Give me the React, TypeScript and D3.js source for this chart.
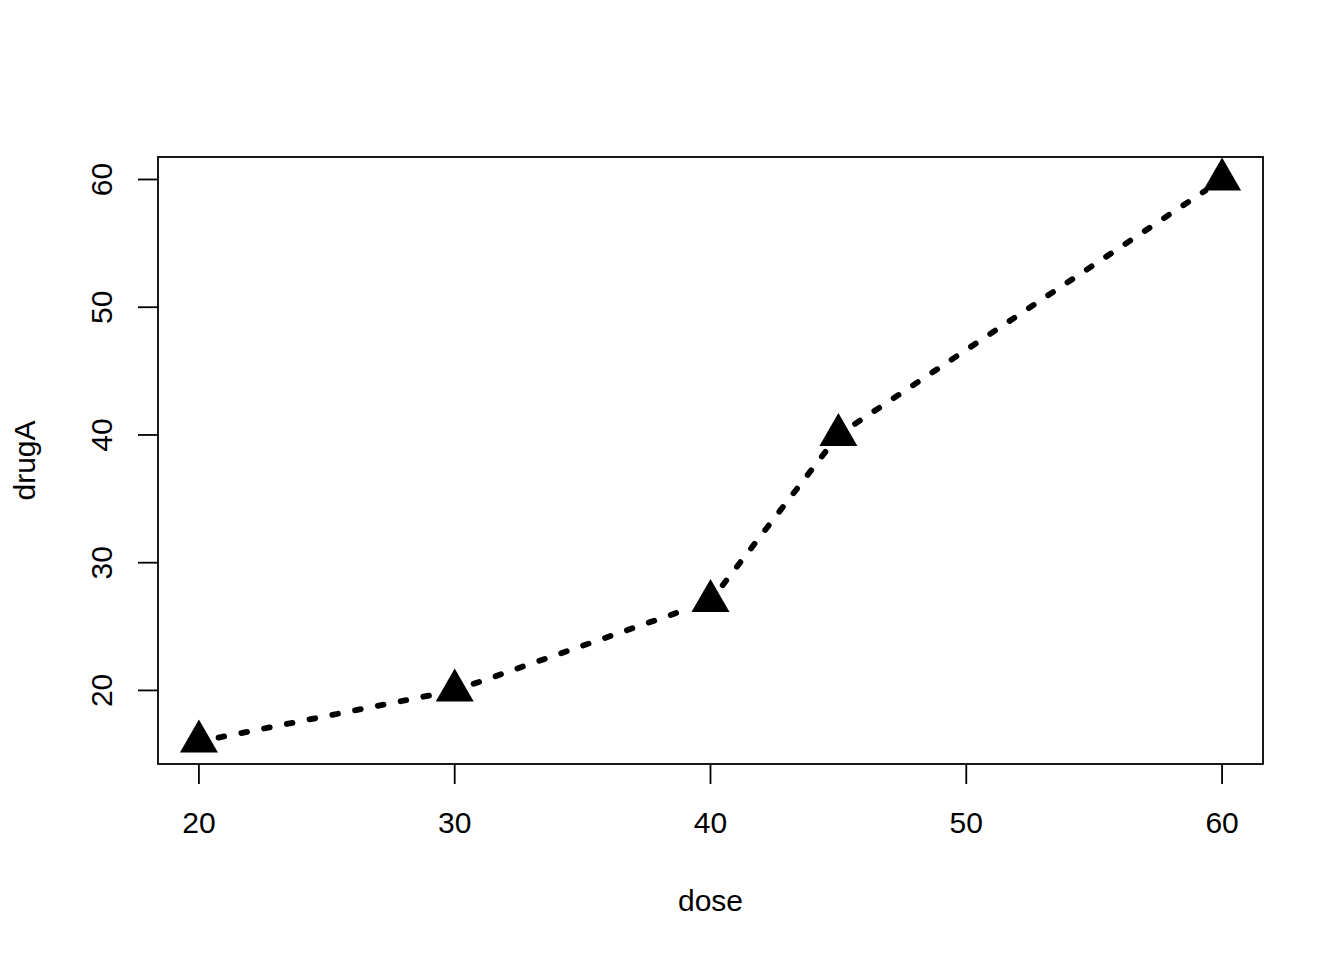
import { useMemo } from "react";
import * as d3 from "d3";

const dose = [20, 30, 40, 45, 60];
const drugA = [16, 20, 27, 40, 60];
const xTicks = [20, 30, 40, 50, 60];
const yTicks = [20, 30, 40, 50, 60];

const WIDTH = 1344;
const HEIGHT = 960;
const BOX = { left: 158, right: 1263, top: 157, bottom: 764 };
const FONT = "'Liberation Sans', Arial, Helvetica, sans-serif";
const TICK_LEN = 20;
const LINE_GAP = 20;
const TRI = { r: 22, xc: 19, yc: 11 };

// R style: pad the data range by 4% on each side
const padded = (vals: number[]): [number, number] => {
  const [lo, hi] = d3.extent(vals) as [number, number];
  const ext = (hi - lo) * 0.04;
  return [lo - ext, hi + ext];
};

export default function App() {
  const xScale = useMemo(
    () => d3.scaleLinear().domain(padded(dose)).range([BOX.left, BOX.right]),
    []
  );
  const yScale = useMemo(
    () => d3.scaleLinear().domain(padded(drugA)).range([BOX.bottom, BOX.top]),
    []
  );

  const pts = dose.map((d, i) => [xScale(d), yScale(drugA[i])]);

  // type = "b": segments stop short of the points
  const segments = pts.slice(1).map((p, i) => {
    const q = pts[i];
    const dx = p[0] - q[0];
    const dy = p[1] - q[1];
    const len = Math.hypot(dx, dy);
    const ux = dx / len;
    const uy = dy / len;
    return (
      <line
        key={i}
        x1={q[0] + ux * LINE_GAP}
        y1={q[1] + uy * LINE_GAP}
        x2={p[0] - ux * LINE_GAP}
        y2={p[1] - uy * LINE_GAP}
        stroke="#000"
        strokeWidth={5.8}
        strokeDasharray="5.8 17.4"
        strokeLinecap="round"
      />
    );
  });

  const triangles = pts.map(([x, y], i) => (
    <path
      key={i}
      d={`M${x},${y - TRI.r}L${x + TRI.xc},${y + TRI.yc}L${x - TRI.xc},${y + TRI.yc}Z`}
      fill="#000"
    />
  ));

  return (
    <svg
      width={WIDTH}
      height={HEIGHT}
      style={{ position: "absolute", left: 0, top: 0, background: "#fff" }}
      fontFamily={FONT}
    >
      <rect
        x={BOX.left}
        y={BOX.top}
        width={BOX.right - BOX.left}
        height={BOX.bottom - BOX.top}
        fill="none"
        stroke="#000"
        strokeWidth={1.8}
      />

      {/* x axis */}
      {xTicks.map((t) => (
        <g key={t} transform={`translate(${xScale(t)},${BOX.bottom})`}>
          <line y2={TICK_LEN} stroke="#000" strokeWidth={1.8} />
          <text y={69} textAnchor="middle" fontSize={30}>
            {t}
          </text>
        </g>
      ))}

      {/* y axis */}
      {yTicks.map((t) => (
        <g key={t} transform={`translate(${BOX.left},${yScale(t)})`}>
          <line x2={-TICK_LEN} stroke="#000" strokeWidth={1.8} />
          <text
            transform={`translate(-46,0) rotate(-90)`}
            textAnchor="middle"
            fontSize={30}
          >
            {t}
          </text>
        </g>
      ))}

      <text x={(BOX.left + BOX.right) / 2} y={911} textAnchor="middle" fontSize={30}>
        dose
      </text>
      <text
        transform={`translate(35,${(BOX.top + BOX.bottom) / 2}) rotate(-90)`}
        textAnchor="middle"
        fontSize={30}
      >
        drugA
      </text>

      {segments}
      {triangles}
    </svg>
  );
}
